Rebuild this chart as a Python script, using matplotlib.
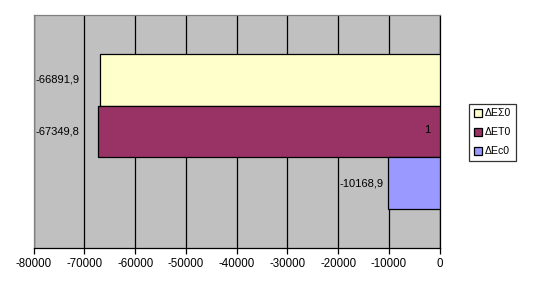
import matplotlib
matplotlib.use("Agg")
import matplotlib.pyplot as plt
from matplotlib.patches import Patch

# values
series = ["ΔΕΣ0", "ΔΕΤ0", "ΔEc0"]
values = [-66891.9, -67349.8, -10168.9]
labels = ["-66891,9", "-67349,8", "-10168,9"]
colors = ["#FFFFCC", "#993366", "#9999FF"]
category = "1"
xticks = [-80000, -70000, -60000, -50000, -40000, -30000, -20000, -10000, 0]

plt.rcParams["font.family"] = ["Liberation Sans", "DejaVu Sans"]
plt.rcParams["font.size"] = 8.0

fig = plt.figure(figsize=(5.34, 2.90), dpi=100)
fig.patch.set_facecolor("white")
ax = fig.add_axes([0.0631, 0.1459, 0.7603, 0.8013])
ax.set_facecolor("#C0C0C0")

bw = 1 / 4.5
pos = [-bw, 0, bw]
for p, v, c in zip(pos, values, colors):
    ax.barh(p, v, height=bw, color=c, edgecolor="black", linewidth=0.9, zorder=3)

# data labels just left of each bar end (pixel offsets)
offsets = [-21, -19, -5]
for p, v, lab, off in zip(pos, values, labels, offsets):
    ax.annotate(lab, (v, p), xytext=(off * 0.72, 0), textcoords="offset points",
                ha="right", va="center", zorder=4)

# category label sits next to the axis at 0
ax.annotate(category, (0, 0), xytext=(-9 * 0.72, 1), textcoords="offset points",
            ha="right", va="center", zorder=4)

ax.set_xlim(-80000, 0)
ax.set_ylim(0.5, -0.5)
ax.set_xticks(xticks)
ax.set_xticklabels([str(t) for t in xticks], fontsize=8.3)
ax.set_yticks([])
ax.grid(axis="x", color="black", linewidth=0.9, zorder=1)
ax.tick_params(axis="x", direction="out", length=4, width=0.9, pad=3.5, colors="black")

for s in ["top", "left"]:
    ax.spines[s].set_color("#808080")
    ax.spines[s].set_linewidth(0.9)
ax.spines["bottom"].set_color("black")
ax.spines["bottom"].set_linewidth(0.9)
ax.spines["right"].set_color("black")
ax.spines["right"].set_linewidth(0.9)

handles = [Patch(facecolor=c, edgecolor="black", linewidth=0.9) for c in colors]
leg = fig.legend(handles, series, loc="upper left", fontsize=7.6,
                 bbox_to_anchor=(469 / 534, 1 - 103.7 / 290), borderaxespad=0,
                 frameon=True, fancybox=False, edgecolor="black",
                 handlelength=0.75, handleheight=0.75, handletextpad=0.3,
                 labelspacing=0.85, borderpad=0.45)
leg.get_frame().set_linewidth(0.9)

fig.savefig("out.png", dpi=100, facecolor="white")
